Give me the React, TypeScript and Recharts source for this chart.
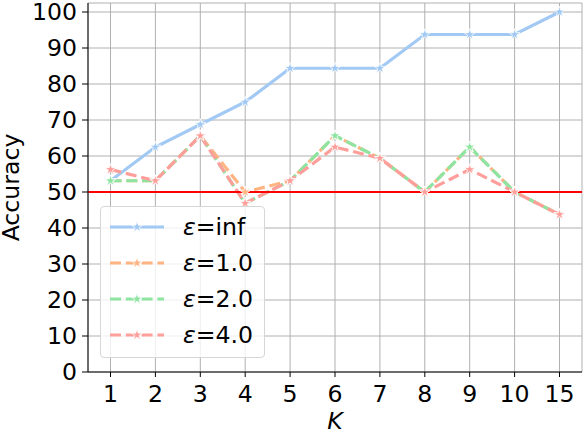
import React from "react";
import { LineChart, Line, XAxis, YAxis, CartesianGrid, ReferenceLine, Legend, Label } from "recharts";

// K values on the x axis
const kValues = ["1", "2", "3", "4", "5", "6", "7", "8", "9", "10", "15"];

// accuracy per epsilon
const accInf = [53.125, 62.5, 68.75, 75, 84.375, 84.375, 84.375, 93.75, 93.75, 93.75, 100];
const acc1 = [53.125, 53.125, 65.625, 50, 53.125, 65.625, 59.375, 50, 62.5, 50, 43.75];
const acc2 = [53.125, 53.125, 65.625, 46.875, 53.125, 65.625, 59.375, 50, 62.5, 50, 43.75];
const acc4 = [56.25, 53.125, 65.625, 46.875, 53.125, 62.5, 59.375, 50, 56.25, 50, 43.75];

const yTicks = [0, 10, 20, 30, 40, 50, 60, 70, 80, 90, 100];
const chanceLevel = 50;

const SERIES = [
  { key: "inf", label: "inf", color: "#a1c9f4", dash: undefined as string | undefined },
  { key: "e1", label: "1.0", color: "#ffb482", dash: "11 4.8" },
  { key: "e2", label: "2.0", color: "#8de5a1", dash: "11 4.8" },
  { key: "e4", label: "4.0", color: "#ff9f9b", dash: "11 4.8" },
];

const data = kValues.map((k, i) => ({ k, inf: accInf[i], e1: acc1[i], e2: acc2[i], e4: acc4[i] }));

const FONT = 23.6;
const STAR_R = 5.8;

function starPath(cx: number, cy: number, r: number) {
  const pts: string[] = [];
  for (let i = 0; i < 10; i++) {
    const a = ((-90 + i * 36) * Math.PI) / 180;
    const rr = i % 2 === 0 ? r : r * 0.382;
    pts.push(`${(cx + rr * Math.cos(a)).toFixed(2)},${(cy + rr * Math.sin(a)).toFixed(2)}`);
  }
  return "M" + pts.join("L") + "Z";
}

const makeStar = (color: string) => (props: any) => {
  const { cx, cy, index } = props;
  if (cx == null || cy == null) return <g key={`s-${index}`} />;
  return <path key={`s-${index}`} d={starPath(cx, cy, STAR_R)} fill={color} stroke="#fff" strokeWidth={0.8} strokeDasharray="none" />;
};

const renderLegend = () => (
  <div
    style={{
      width: 165,
      height: 152,
      boxSizing: "border-box",
      border: "1px solid #d6d6d6",
      borderRadius: 4,
      background: "rgba(255,255,255,0.8)",
      paddingTop: 2,
    }}
  >
    {SERIES.map((s) => (
      <div key={s.key} style={{ height: 36, position: "relative" }}>
        <svg width={56} height={36} style={{ position: "absolute", left: 8, top: 0 }}>
          <line x1={1} y1={18} x2={55} y2={18} stroke={s.color} strokeWidth={3} strokeDasharray={s.dash} />
          <path d={starPath(28, 18, STAR_R)} fill={s.color} stroke="#fff" strokeWidth={0.8} />
        </svg>
        <span style={{ position: "absolute", left: 82, top: 0, lineHeight: "36px", fontSize: FONT, color: "#000", whiteSpace: "nowrap" }}>
          <i>ε</i>={s.label}
        </span>
      </div>
    ))}
  </div>
);

const yTitle = (props: any) => {
  const vb = props.viewBox;
  const cy = vb.y + vb.height / 2;
  return (
    <text x={19} y={cy} transform={`rotate(-90 19 ${cy})`} textAnchor="middle" fontSize={FONT} fill="#000">
      Accuracy
    </text>
  );
};

const xTitle = (props: any) => {
  const vb = props.viewBox;
  return (
    <text x={vb.x + vb.width / 2} y={429} textAnchor="middle" fontSize={FONT} fontStyle="italic" fill="#000">
      K
    </text>
  );
};

export default function App() {
  return (
    <div style={{ position: "absolute", left: 0, top: 0, width: 587, height: 432, background: "#fff", fontFamily: "'DejaVu Sans', sans-serif" }}>
      <LineChart width={587} height={432} data={data} margin={{ top: 3, right: 5, left: 0, bottom: 0 }}>
        <CartesianGrid stroke="#b0b0b0" strokeWidth={1} />
        <XAxis
          dataKey="k"
          type="category"
          height={60}
          padding={{ left: 22.5, right: 22.5 }}
          interval={0}
          stroke="#000"
          tickSize={5}
          tickMargin={8}
          tick={{ fill: "#000", fontSize: FONT }}
        >
          <Label content={xTitle} />
        </XAxis>
        <XAxis xAxisId="top" dataKey="k" orientation="top" height={0} tick={false} tickLine={false} stroke="#000" />
        <YAxis
          type="number"
          domain={[0, 102.5]}
          ticks={yTicks}
          interval={0}
          width={88}
          stroke="#000"
          tickSize={6}
          tickMargin={5}
          tick={{ fill: "#000", fontSize: FONT }}
        >
          <Label content={yTitle} />
        </YAxis>
        <YAxis yAxisId="right" orientation="right" width={0} domain={[0, 102.5]} tick={false} tickLine={false} stroke="#000" />
        {SERIES.map((s) => (
          <Line
            key={s.key}
            dataKey={s.key}
            stroke={s.color}
            strokeWidth={3.2}
            strokeDasharray={s.dash}
            dot={makeStar(s.color)}
            activeDot={false}
            isAnimationActive={false}
          />
        ))}
        <ReferenceLine y={chanceLevel} stroke="#ff0000" strokeWidth={2} />
        <Legend
          layout="vertical"
          align="center"
          verticalAlign="middle"
          content={renderLegend}
          wrapperStyle={{ left: 100, top: 206, width: 165, height: 152 }}
        />
      </LineChart>
    </div>
  );
}
